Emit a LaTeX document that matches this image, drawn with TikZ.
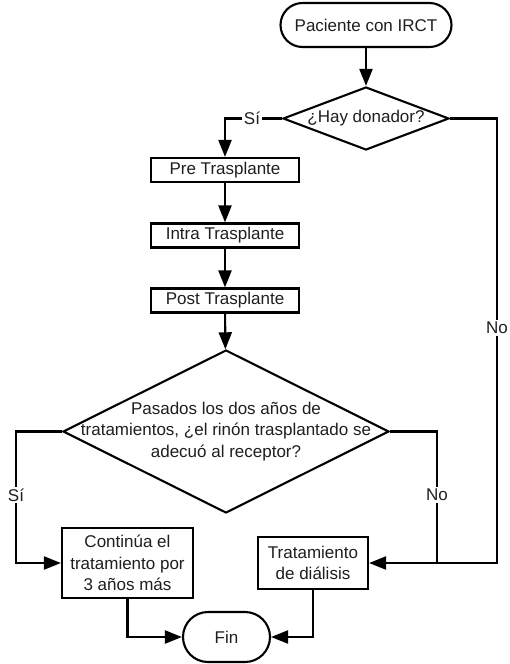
\documentclass[tikz,border=0pt]{standalone}
\usepackage{fontspec}
\setmainfont{Liberation Sans}
\usetikzlibrary{arrows.meta,shapes.geometric}
\begin{document}
\begin{tikzpicture}[x=1pt,y=-1pt,
  every node/.style={text=black!88, font=\fontsize{17}{21.5}\selectfont},
  line/.style={line width=2.1pt, draw=black},
  tip/.style={-{Triangle[length=17pt,width=13pt]}},
  proc/.style={draw=black, line width=2.1pt, rectangle, inner sep=0pt, align=center},
  term/.style={draw=black, line width=2.1pt, rectangle, inner sep=0pt},
  dia/.style={draw=black, line width=2.1pt, diamond, inner sep=0pt},
  lab/.style={fill=white, inner sep=2pt}
]
\useasboundingbox (0,0) rectangle (509,664);
\fill[white] (0,0) rectangle (509,664);

% nodes
\node[term, rounded corners=22pt, minimum width=171pt, minimum height=44pt] (start) at (366,25) {Paciente con IRCT};
\node[dia, minimum width=166pt, minimum height=63pt] (d1) at (366,118.5) {};
\node (d1t) at (d1.center) {¿Hay donador?};
\node[proc, minimum width=148pt, minimum height=24pt] (pre) at (225,170) {Pre Trasplante};
\node[proc, minimum width=148pt, minimum height=24pt] (intra) at (225,235.5) {Intra Trasplante};
\node[proc, minimum width=148pt, minimum height=24pt] (post) at (225,300.5) {Post Trasplante};
\node[dia, minimum width=326pt, minimum height=163pt] (d2) at (226,431.5) {};
\node[align=center] (d2t) at (d2.center) {Pasados los dos años de\\tratamientos, ¿el rinón trasplantado se\\adecuó al receptor?};
\node[proc, minimum width=131pt, minimum height=70pt] (cont) at (127.5,563) {Continúa el\\tratamiento por\\3 años más};
\node[proc, minimum width=110pt, minimum height=52pt] (dial) at (313,563) {Tratamiento\\de diálisis};
\node[term, rounded corners=25pt, minimum width=87pt, minimum height=50pt] (fin) at (226.5,637) {Fin};

\coordinate (c1) at (225,118.5);
\coordinate (c2) at (497,118.5);
\coordinate (c3) at (16,431.5);
\coordinate (c4) at (437,431.5);
\coordinate (j) at (437,563);

% connectors
\draw[line, tip] (start) -- (d1);
\draw[line, tip] (d1.west) -- (c1) -- (pre.north);
\draw[line, tip] (pre) -- (intra);
\draw[line, tip] (intra) -- (post);
\draw[line, tip] (post) -- (d2);
\draw[line, tip] (d1.east) -- (c2) |- (dial.east);
\draw[line, tip] (d2.west) -- (c3) |- (cont.west);
\draw[line] (d2.east) -- (c4) -- (j);
\draw[line, tip] (cont.south) |- (fin.west);
\draw[line, tip] (dial.south) |- (fin.east);

% labels
\node[lab] (l1) at (252,118.5) {Sí};
\node[lab] (l2) at (497,328) {No};
\node[lab] (l3) at (16,495) {Sí};
\node[lab] (l4) at (437,495) {No};
\end{tikzpicture}
\end{document}
